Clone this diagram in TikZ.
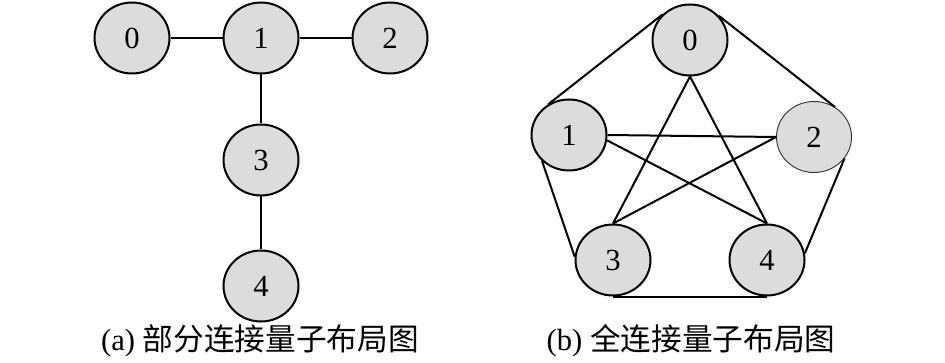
\documentclass[tikz,border=0pt]{standalone}
\usepackage{fontspec}
\setmainfont{Liberation Serif}
\newfontfamily\cjk{Noto Sans CJK SC}
\usetikzlibrary{shapes.geometric}
\definecolor{qfill}{RGB}{220,220,220}

\begin{document}
\begin{tikzpicture}[x=0.75pt,y=0.75pt,yscale=-1,
  qubit/.style={ellipse, draw=black, line width=1.5, fill=qfill, minimum width=56.25pt, minimum height=53.25pt, inner sep=0.75pt, font=\fontsize{23}{23}\selectfont},
  link/.style={line width=1.5},
  caption/.style={inner sep=0.75pt, font=\fontsize{23}{26}\selectfont}]
\useasboundingbox (0,0) rectangle (945,363);

% Nodes (a)
\draw (132,38) node [qubit] (a0) {0};
\draw (261,38) node [qubit] (a1) {1};
\draw (390,38) node [qubit] (a2) {2};
\draw (261,160) node [qubit] (a3) {3};
\draw (261,286) node [qubit] (a4) {4};

%Straight Lines (a)
\draw [link] (a0.east) -- (a1.west) ;
\draw [link] (a1.east) -- (a2.west) ;
\draw [link] (a1.south) -- (a3.north) ;
\draw [link] (a3.south) -- (a4.north) ;

% Nodes (b)
\draw (690,40) node [qubit] (b0) {0};
\draw (569,135) node [qubit] (b1) {1};
\draw (814,137) node [qubit, line width=0.7, draw=black!80] (b2) {2};
\draw (613,260) node [qubit] (b3) {3};
\draw (767,260) node [qubit] (b4) {4};

%Straight Lines (b), outer ring
\draw [link] (b0.137) -- (b1.124) ;
\draw [link] (b0.40) -- (b2.55) ;
\draw [link] (b1.224) -- (b3.175) ;
\draw [link] (b2.-35) -- (b4.10) ;
\draw [link] (b3.south) -- (b4.south) ;
%Straight Lines (b), inner star
\draw [link] (b1.east) -- (b2.west) ;
\draw [link] (b1.-8) -- (b4.north) ;
\draw [link] (b2.west) -- (b3.north) ;
\draw [link] (b0.south) -- (b3.north) ;
\draw [link] (b0.south) -- (b4.north) ;

% Text Node
\draw (260,341) node [caption] (capa) {(a) {\cjk 部分连接量子布局图}};
% Text Node
\draw (691,341) node [caption] (capb) {(b) {\cjk 全连接量子布局图}};
\end{tikzpicture}
\end{document}
